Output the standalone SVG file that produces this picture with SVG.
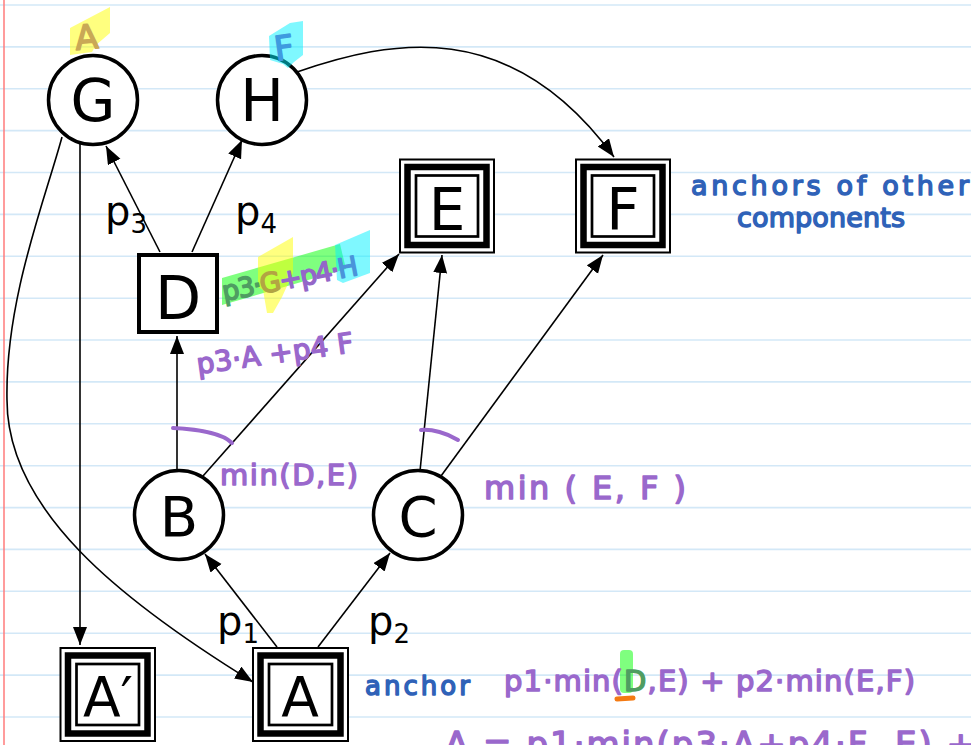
<svg xmlns="http://www.w3.org/2000/svg" width="971" height="745" viewBox="0 0 971 745">
<defs>
<style>
.rule{stroke:#d3e8f7;stroke-width:1.6}
.margin{stroke:#ff7b7b;stroke-width:1.5}
.edge{fill:none;stroke:#000;stroke-width:1.6;marker-end:url(#arr)}
.circ{fill:#fff;stroke:#000;stroke-width:3.5}
.sq{fill:#fff;stroke:#000;stroke-width:4}
.ob{fill:#fff;stroke:#000;stroke-width:2}
.tb{fill:none;stroke:#000;stroke-width:6.5}
.ib{fill:none;stroke:#000;stroke-width:2.7}
.lbl{font-family:"DejaVu Sans","Liberation Sans",sans-serif;text-anchor:middle;fill:#000}
.elbl{font-family:"DejaVu Sans","Liberation Sans",sans-serif;font-size:40px;fill:#000}
.sub{font-size:26px}
.hw{font-family:"DejaVu Sans","Liberation Sans",sans-serif;stroke-linejoin:round;stroke-linecap:round;stroke-width:1.5}
.pu{fill:#9a68cc;stroke:#9a68cc}
.bl{fill:#2f62b8;stroke:#2f62b8}
.arc{fill:none;stroke:#9a68cc;stroke-width:4;stroke-linecap:round}
.hl{opacity:0.5}
</style>
<marker id="arr" markerUnits="userSpaceOnUse" markerWidth="20" markerHeight="16" refX="18" refY="7" orient="auto">
<path d="M0,0 L18,7 L0,14 Z" fill="#000"/>
</marker>
</defs>
<rect x="0" y="0" width="971" height="745" fill="#fff"/>
<g id="paper">
<line class="rule" x1="0" y1="5" x2="971" y2="5"/>
<line class="rule" x1="0" y1="46.9" x2="971" y2="46.9"/>
<line class="rule" x1="0" y1="88.8" x2="971" y2="88.8"/>
<line class="rule" x1="0" y1="130.6" x2="971" y2="130.6"/>
<line class="rule" x1="0" y1="172.5" x2="971" y2="172.5"/>
<line class="rule" x1="0" y1="214.4" x2="971" y2="214.4"/>
<line class="rule" x1="0" y1="256.3" x2="971" y2="256.3"/>
<line class="rule" x1="0" y1="298.2" x2="971" y2="298.2"/>
<line class="rule" x1="0" y1="340" x2="971" y2="340"/>
<line class="rule" x1="0" y1="381.9" x2="971" y2="381.9"/>
<line class="rule" x1="0" y1="423.8" x2="971" y2="423.8"/>
<line class="rule" x1="0" y1="465.7" x2="971" y2="465.7"/>
<line class="rule" x1="0" y1="507.6" x2="971" y2="507.6"/>
<line class="rule" x1="0" y1="549.4" x2="971" y2="549.4"/>
<line class="rule" x1="0" y1="591.3" x2="971" y2="591.3"/>
<line class="rule" x1="0" y1="633.2" x2="971" y2="633.2"/>
<line class="rule" x1="0" y1="675.1" x2="971" y2="675.1"/>
<line class="rule" x1="0" y1="717" x2="971" y2="717"/>
<line class="margin" x1="4" y1="0" x2="4" y2="745"/>
</g>
<g id="connectors">
<path class="edge" d="M80,143 L80,645"/>
<path class="edge" d="M62,137 C45,200 5,300 7,400 C7,510 120,600 253,682"/>
<path class="edge" d="M297,72 C390,40 510,15 614,157"/>
<path class="edge" d="M160,252 L106,146"/>
<path class="edge" d="M192,252 L242,140"/>
<path class="edge" d="M177,470 L177,336"/>
<path class="edge" d="M203,476 L399,254"/>
<path class="edge" d="M420,471 L442,255"/>
<path class="edge" d="M441,476 L603,255"/>
<path class="edge" d="M277,647 L205,554"/>
<path class="edge" d="M318,647 L390,553"/>
</g>
<g id="edge-labels">
<text class="elbl" x="105" y="225">p<tspan class="sub" dy="8">3</tspan></text>
<text class="elbl" x="235" y="225">p<tspan class="sub" dy="8">4</tspan></text>
<text class="elbl" x="217" y="635">p<tspan class="sub" dy="8">1</tspan></text>
<text class="elbl" x="368" y="635">p<tspan class="sub" dy="8">2</tspan></text>
</g>
<g id="G"><circle class="circ" cx="93" cy="100" r="44.5"/><text class="lbl" x="93" y="121" font-size="58">G</text></g>
<g id="H"><circle class="circ" cx="262" cy="100" r="44.5"/><text class="lbl" x="262" y="121" font-size="58">H</text></g>
<g id="D"><rect class="sq" x="139" y="255" width="78" height="77"/><text class="lbl" x="178" y="319" font-size="60">D</text></g>
<g id="E">
<rect class="ob" x="400" y="159.5" width="94" height="93"/>
<rect class="tb" x="407.5" y="167" width="79" height="78"/>
<rect class="ib" x="416" y="175.5" width="62" height="61"/>
<text class="lbl" x="447" y="230" font-size="58">E</text>
</g>
<g id="F">
<rect class="ob" x="576" y="159.5" width="94" height="93"/>
<rect class="tb" x="583.5" y="167" width="79" height="78"/>
<rect class="ib" x="592" y="175.5" width="62" height="61"/>
<text class="lbl" x="623" y="230" font-size="58">F</text>
</g>
<g id="B"><circle class="circ" cx="179" cy="515" r="44.5"/><text class="lbl" x="179" y="536" font-size="56">B</text></g>
<g id="C"><circle class="circ" cx="418" cy="515" r="44.5"/><text class="lbl" x="418" y="536" font-size="56">C</text></g>
<g id="Aprime">
<rect class="ob" x="60.5" y="648" width="94.5" height="93"/>
<rect class="tb" x="68" y="655.5" width="79.5" height="78"/>
<rect class="ib" x="76.5" y="664" width="62.5" height="61"/>
<text class="lbl" x="108" y="716" font-size="55">A′</text>
</g>
<g id="A">
<rect class="ob" x="253" y="648" width="95" height="93"/>
<rect class="tb" x="260.5" y="655.5" width="80" height="78"/>
<rect class="ib" x="269" y="664" width="63" height="61"/>
<text class="lbl" x="300" y="716" font-size="55">A</text>
</g>
<g id="annotations">
<polygon class="hl" fill="#ffff00" points="70,28 110,7 110,33 96,45 92,52 70,55"/>
<polygon class="hl" fill="#00f2ff" points="269,36 290,23 303,21 303,55 294,62 288,68 283,64 270,60"/>
<polygon class="hl" fill="#00ff00" points="222,278 340,244 346,269 222,305"/>
<polygon class="hl" fill="#ffff00" points="258,257 293,237 293,273 282,297 273,313 267,313 263,290 258,287"/>
<polygon class="hl" fill="#00f2ff" points="335,245 370,230 370,273 343,283 337,280"/>
<rect class="hl" fill="#00ff00" x="620" y="650" width="13" height="43" rx="4"/>
<text class="hw" x="76" y="50" font-size="34" fill="#c9a856" stroke="#c9a856" transform="rotate(-5 76 50)">A</text>
<text class="hw" x="276" y="61" font-size="34" fill="#3f9be0" stroke="#3f9be0" transform="rotate(-8 276 61)">F</text>
<text class="hw" x="224" y="301" font-size="27" textLength="138" lengthAdjust="spacing" transform="rotate(-11 224 301)"><tspan fill="#4f9d62" stroke="#4f9d62">p3·</tspan><tspan fill="#b3a443" stroke="#b3a443">G</tspan><tspan fill="#9466c8" stroke="#9466c8">+p4·</tspan><tspan fill="#4a94da" stroke="#4a94da">H</tspan></text>
<text class="hw pu" x="198" y="374" font-size="28" textLength="158" lengthAdjust="spacing" transform="rotate(-8 198 374)">p3·A +p4 F</text>
<path class="arc" d="M173,428 C195,429 222,433 232,443"/>
<path class="arc" d="M421,430 C432,429 447,433 458,440"/>
<text class="hw pu" x="220" y="485" font-size="29" textLength="138" lengthAdjust="spacing">min(D,E)</text>
<text class="hw pu" x="484" y="499" font-size="32" textLength="202" lengthAdjust="spacing">min ( E, F )</text>
<text class="hw bl" x="691" y="195" font-size="27" textLength="278" lengthAdjust="spacing">anchors of other</text>
<text class="hw bl" x="737" y="227" font-size="27" textLength="168" lengthAdjust="spacing">components</text>
<text class="hw bl" x="365" y="695" font-size="26" textLength="105" lengthAdjust="spacing">anchor</text>
<text class="hw pu" x="504" y="691" font-size="29" textLength="411" lengthAdjust="spacing">p1·min(<tspan fill="#4f9d62" stroke="#4f9d62">D</tspan>,E) + p2·min(E,F)</text>
<path d="M617,699 L633,698" fill="none" stroke="#f47a12" stroke-width="5" stroke-linecap="round"/>
<text class="hw pu" x="445" y="756" font-size="34" textLength="530" lengthAdjust="spacing">A = p1·min(p3·A+p4·F, E) +</text>
</g>
</svg>
